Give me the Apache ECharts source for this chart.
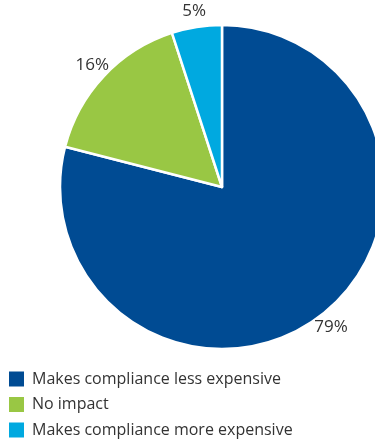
<!DOCTYPE html>
<html>
<head>
<meta charset="utf-8">
<style>
  html, body { margin: 0; padding: 0; background: #fff; }
  #chart { width: 375px; height: 442px; }
</style>
<script src="https://cdn.jsdelivr.net/npm/echarts@6/dist/echarts.min.js"></script>
</head>
<body>
<div id="chart"></div>
<script>
const categories = [
  'Makes compliance less expensive',
  'No impact',
  'Makes compliance more expensive'
];
const shares = [79, 16, 5];
const colors = ['#004b93', '#99c744', '#00a9e0'];

const pieData = categories.map((name, i) => ({
  name: name,
  value: shares[i],
  itemStyle: { color: colors[i] }
}));

const chart = echarts.init(document.getElementById('chart'), null, { renderer: 'canvas' });

const font = '"Open Sans", "Noto Sans", sans-serif';

chart.setOption({
  animation: false,
  legend: {
    orient: 'vertical',
    left: 9,
    top: 371,
    height: 120,
    padding: 0,
    itemWidth: 15,
    itemHeight: 15,
    itemGap: 9.5,
    icon: 'rect',
    selectedMode: false,
    itemStyle: { borderWidth: 0 },
    textStyle: { fontFamily: font, fontSize: 16, lineHeight: 15, color: '#333', padding: [0, 0, 0, 3] },
    data: categories
  },
  series: [
    {
      type: 'pie',
      center: [222, 187],
      radius: [0, 162],
      startAngle: 90,
      clockwise: true,
      silent: true,
      label: { show: false },
      labelLine: { show: false },
      itemStyle: { borderColor: '#fff', borderWidth: 2.5 },
      data: pieData
    },
    {
      // transparent ring that carries the percentage labels just outside the pie
      type: 'pie',
      center: [222, 187],
      radius: [162, 188],
      startAngle: 90,
      clockwise: true,
      silent: true,
      legendHoverLink: false,
      itemStyle: { color: 'rgba(0,0,0,0)' },
      label: {
        show: true,
        position: 'inside',
        formatter: '{c}%',
        fontFamily: font,
        fontSize: 17,
        color: '#333'
      },
      labelLine: { show: false },
      data: categories.map((name, i) => ({ name: name + ' ', value: shares[i] }))
    }
  ]
});
</script>
</body>
</html>
